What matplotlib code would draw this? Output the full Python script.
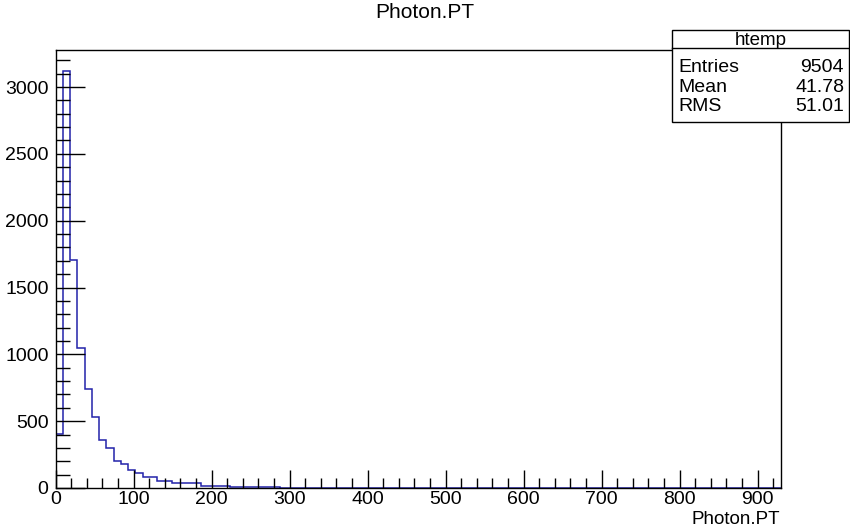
import matplotlib
matplotlib.use("Agg")
import matplotlib.pyplot as plt
import numpy as np
from matplotlib.patches import Rectangle
from matplotlib.ticker import MultipleLocator

plt.rcParams['font.family'] = ['Liberation Sans', 'DejaVu Sans']

# histogram htemp: 100 bins from 0 to 930
x_min, x_max, n_bins = 0, 930, 100
counts = [402, 3121, 1709, 1050, 741, 534, 359, 297, 204, 177,
          135, 110, 85, 85, 55, 55, 40, 35, 38, 36,
          17, 17, 17, 17, 10, 10, 10, 5, 5, 5,
          4, 3, 3, 2, 2, 1, 1, 1, 1, 1,
          0, 1, 0, 1, 0, 0, 1, 0, 0, 0,
          0, 0, 1, 0, 0, 0, 0, 0, 0, 0,
          0, 0, 0, 0, 0, 0, 0, 0, 0, 0,
          0, 0, 0, 0, 0, 0, 0, 0, 0, 0,
          0, 0, 0, 0, 0, 0, 0, 0, 0, 0,
          0, 0, 0, 0, 0, 0, 0, 0, 0, 0]
stats_labels = ["Entries", "Mean", "RMS"]
stats_values = ["9504", "41.78", "51.01"]

W, H = 850, 529
fig = plt.figure(figsize=(W / 100, H / 100), dpi=100)
ax = fig.add_axes([55.5 / W, (H - 488) / H, (781 - 55.5) / W, (488 - 50) / H])

edges = np.linspace(x_min, x_max, n_bins + 1)
ax.stairs(counts, edges, color='#2222aa', linewidth=1.1)

ax.set_xlim(x_min, x_max)
ax.set_ylim(0, max(counts) * 1.05)

ax.xaxis.set_major_locator(MultipleLocator(100))
ax.xaxis.set_minor_locator(MultipleLocator(20))
ax.yaxis.set_major_locator(MultipleLocator(500))
ax.yaxis.set_minor_locator(MultipleLocator(100))
ax.tick_params(axis='x', which='major', direction='in', length=13, width=1, labelsize=14, pad=2)
ax.tick_params(axis='x', which='minor', direction='in', length=7, width=1)
ax.tick_params(axis='y', which='major', direction='in', length=21, width=1, labelsize=14, pad=5)
ax.tick_params(axis='y', which='minor', direction='in', length=10, width=1)
for s in ax.spines.values():
    s.set_linewidth(1)

fig.text(0.5, 1 - 13 / H, "Photon.PT", ha='center', va='center', fontsize=15)
fig.text(780 / W, 1 - 519 / H, "Photon.PT", ha='right', va='center', fontsize=13.5)

# stats box
bx0, bx1, by0, by1 = 672, 849, 30, 122
fig.patches.append(Rectangle((bx0 / W, 1 - by1 / H), (bx1 - bx0) / W, (by1 - by0) / H,
                             transform=fig.transFigure, facecolor='white',
                             edgecolor='black', linewidth=1, zorder=5))
fig.add_artist(plt.Line2D([bx0 / W, bx1 / W], [1 - 48 / H, 1 - 48 / H],
                          transform=fig.transFigure, color='black', linewidth=1, zorder=6))
fig.text((bx0 + bx1) / 2 / W, 1 - 40 / H, "htemp", ha='center', va='center', fontsize=13.5, zorder=7)
for k, (lab, val) in enumerate(zip(stats_labels, stats_values)):
    yy = 1 - (67 + 20 * k) / H
    fig.text(678 / W, yy, lab, ha='left', va='center', fontsize=14, zorder=7)
    fig.text(844 / W, yy, val, ha='right', va='center', fontsize=14, zorder=7)

fig.savefig("out.png", dpi=100)
